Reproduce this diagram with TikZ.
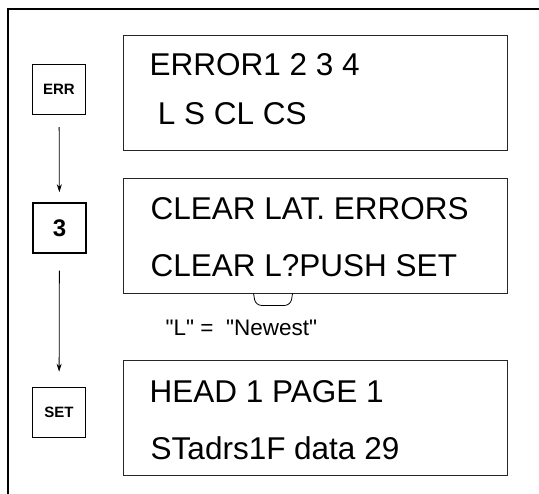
\documentclass[tikz,border=0pt]{standalone}
\usepackage{fontspec}
\setmainfont{Liberation Sans}
\newfontfamily\notefont{Liberation Sans}
\usetikzlibrary{calc,positioning,arrows.meta}

\begin{document}
\begin{tikzpicture}[x=1pt, y=-1pt, >={Stealth[length=8pt,width=5pt]},
  lcd/.style={draw=black!85, line width=0.9pt, minimum width=384pt, minimum height=115pt, inner sep=0pt},
  key/.style={draw, line width=1.5pt, minimum width=53pt, minimum height=50pt, inner sep=0pt, font=\fontsize{15}{18}\selectfont\bfseries},
  row/.style={anchor=base west, inner sep=0pt, font=\fontsize{31.5}{36}\selectfont}]
\useasboundingbox (0,0) rectangle (539,494);
\draw[line width=2.2pt] (8,494) -- (8,9) -- (539,9);
% displays
\node[lcd] (lcdA) at (315,92.5) {};
\node[lcd] (lcdB) at (315,235.5) {};
\node[lcd] (lcdC) at (315,417.5) {};
\node[row] (errA) at (149.5,76) {ERROR1 2 3 4};
\node[row] (errB) at (157.7,125) {L S CL CS};
\node[row] (clrA) at (150.5,220) {CLEAR LAT. ERRORS};
\node[row] (clrB) at (150.5,277) {CLEAR L?PUSH SET};
\node[row] (headA) at (149.5,403) {HEAD 1 PAGE 1};
\node[row] (headB) at (150.5,460) {STadrs1F data 29};
% keys
\node[key] (kerr) at (59,89.5) {ERR};
\node[key, font=\fontsize{24}{28}\selectfont\bfseries] (kthree) at (59.5,228) {3};
\node[key] (kset) at (59,412.5) {SET};
\draw[->, line width=0.8pt, shorten <=12pt, shorten >=10pt] (kerr) -- (kthree);
\draw[->, line width=0.8pt, shorten <=17pt, shorten >=15pt] (kthree) -- (kset);
% marker under L
\draw[line width=0.8pt, rounded corners=6pt] ($(lcdB.south west)+(131,0)$) -- ++(2,12) -- ++(35,0) -- ++(2,-12);
\node[anchor=base west, inner sep=0pt, font=\notefont\fontsize{22.5}{26}\selectfont] (note) at (165.5,336) {"L" =\ \ "Newest"};
\end{tikzpicture}
\end{document}
